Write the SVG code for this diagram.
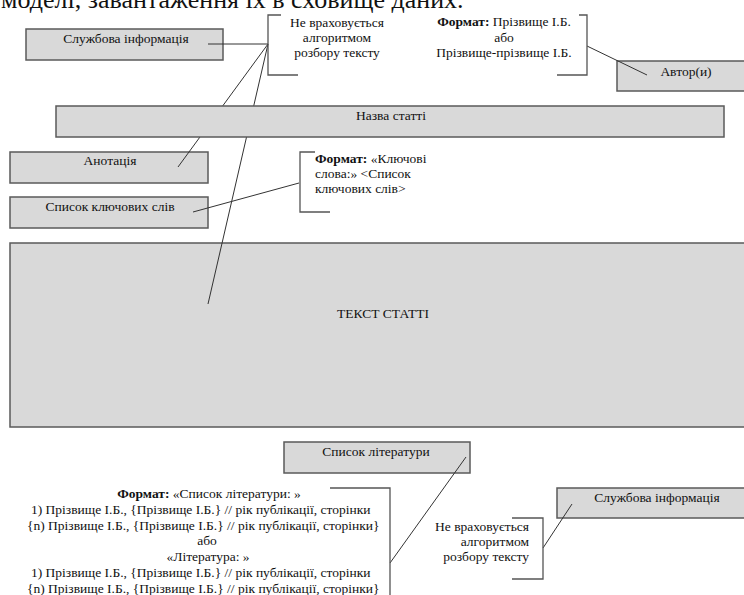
<svg xmlns="http://www.w3.org/2000/svg" width="744" height="595" viewBox="0 0 744 595">
<style>
text{font-family:"Liberation Serif","Times New Roman",serif;font-size:13.5px;fill:#111}
.box{fill:#d9d9d9;stroke:#5a5a5a;stroke-width:1.5}
.ln{stroke:#333;stroke-width:1;fill:none}
.br{stroke:#555;stroke-width:1.3;fill:none}
.c{text-anchor:middle}
.r{text-anchor:end}
.b{font-weight:bold}
</style>
<rect width="744" height="595" fill="#fff"/>
<text x="1" y="8" style="font-size:26px">моделі, завантаження їх в сховище даних.</text>

<g id="sluzhbova-top"><rect class="box" x="26" y="29" width="197" height="31"/><text class="c" x="126" y="43">Службова інформація</text></g>
<g id="avtor"><rect class="box" x="617" y="61" width="135" height="30"/><text class="c" x="686" y="76">Автор(и)</text></g>
<g id="anotatsiia"><rect class="box" x="10" y="152" width="198" height="31"/><text class="c" x="110" y="165">Анотація</text></g>
<g id="kliuchovi"><rect class="box" x="10" y="197" width="198" height="31"/><text class="c" x="110" y="211">Список ключових слів</text></g>
<g id="tekst"><rect class="box" x="10" y="243" width="745" height="184"/><text class="c" x="383" y="318">ТЕКСТ СТАТТІ</text></g>
<g id="literatura"><rect class="box" x="284" y="442" width="186" height="31"/><text class="c" x="376" y="456">Список літератури</text></g>
<g id="sluzhbova-bottom"><rect class="box" x="557" y="488" width="195" height="30"/><text class="c" x="657" y="502">Службова інформація</text></g>

<g id="connectors">
<line class="ln" x1="208" y1="44" x2="268" y2="44"/>
<line class="ln" x1="268" y1="44" x2="178" y2="167"/>
<line class="ln" x1="268" y1="44" x2="208" y2="304"/>
<line class="ln" x1="587" y1="46" x2="647" y2="75"/>
<line class="ln" x1="193" y1="212" x2="299" y2="183"/>
<line class="ln" x1="390" y1="563" x2="466" y2="457"/>
<line class="ln" x1="543" y1="548" x2="572" y2="504"/>
</g>

<g id="nazva"><rect class="box" x="56" y="106" width="668" height="31"/><text class="c" x="391" y="120">Назва статті</text></g>

<g id="note-top-left">
<path class="br" d="M281 15H268V75H298"/>
<text class="c" x="337" y="27">Не враховується</text>
<text class="c" x="337" y="42">алгоритмом</text>
<text class="c" x="337" y="57">розбору тексту</text>
</g>
<g id="note-avtor">
<path class="br" d="M579 15H587V75H557"/>
<text class="c" x="504" y="26"><tspan class="b">Формат:</tspan> Прізвище І.Б.</text>
<text class="c" x="504" y="42">або</text>
<text class="c" x="504" y="57">Прізвище-прізвище І.Б.</text>
</g>
<g id="note-kliuchovi">
<path class="br" d="M315 152H300V212H330"/>
<text x="315" y="163"><tspan class="b">Формат:</tspan> «Ключові</text>
<text x="315" y="178">слова:» &lt;Список</text>
<text x="315" y="193">ключових слів&gt;</text>
</g>
<g id="note-literatura">
<path class="br" d="M330 488H390V600"/>
<text class="c" x="209" y="498"><tspan class="b">Формат:</tspan> «Список літератури: »</text>
<text x="31" y="514">1) Прізвище І.Б., {Прізвище І.Б.} // рік публікації, сторінки</text>
<text x="27" y="530">{n) Прізвище І.Б., {Прізвище І.Б.} // рік публікації, сторінки}</text>
<text class="c" x="207" y="545">або</text>
<text class="c" x="208" y="561">«Література: »</text>
<text x="31" y="577">1) Прізвище І.Б., {Прізвище І.Б.} // рік публікації, сторінки</text>
<text x="27" y="593">{n) Прізвище І.Б., {Прізвище І.Б.} // рік публікації, сторінки}</text>
</g>
<g id="note-bottom-right">
<path class="br" d="M512 518H543V579H512"/>
<text class="r" x="529" y="531">Не враховується</text>
<text class="r" x="529" y="546">алгоритмом</text>
<text class="r" x="529" y="561">розбору тексту</text>
</g>
</svg>
